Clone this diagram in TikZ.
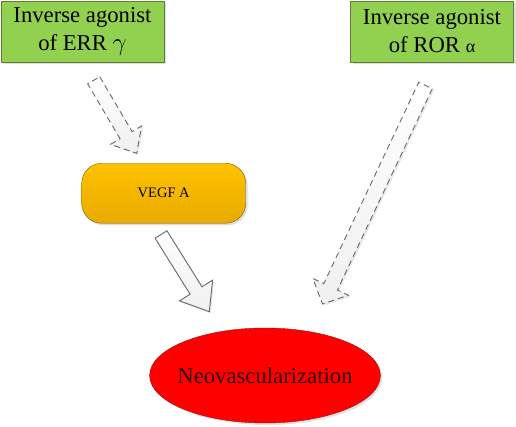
\documentclass[tikz,border=0pt]{standalone}
\usepackage{fontspec}
\setmainfont{Liberation Serif}
\usetikzlibrary{calc,shapes.geometric,shadows}

\definecolor{agogreen}{RGB}{146,208,80}
\definecolor{agoedge}{RGB}{95,125,55}
\definecolor{vegftop}{RGB}{255,194,0}
\definecolor{vegfbot}{RGB}{232,170,0}
\definecolor{vegfedge}{RGB}{120,92,20}
\definecolor{neored}{RGB}{255,0,0}
\definecolor{neoedge}{RGB}{140,20,20}
\definecolor{neotext}{RGB}{45,0,0}
\definecolor{arredge}{RGB}{105,105,105}

\tikzset{
  agonist/.style={draw=agoedge,fill=agogreen,minimum width=163pt,minimum height=61pt,
    inner sep=0pt,align=center,font=\fontsize{22.7}{28}\selectfont,
    drop shadow={shadow xshift=2pt,shadow yshift=-2pt,opacity=.25}},
  target/.style={draw=vegfedge,top color=vegftop,bottom color=vegfbot,rounded corners=20pt,
    minimum width=164pt,minimum height=60pt,font=\fontsize{14.5}{16}\selectfont,
    drop shadow={shadow xshift=2pt,shadow yshift=-2pt,opacity=.25}},
  outcome/.style={ellipse,draw=neoedge,fill=neored,minimum width=230pt,minimum height=95pt,
    inner xsep=-6pt,inner ysep=0pt,text=neotext,font=\fontsize{22.7}{28}\selectfont,
    drop shadow={shadow xshift=2pt,shadow yshift=-2pt,opacity=.25}},
  fat/.style={draw=arredge,top color=white,bottom color=gray!12,line width=0.9pt,
    drop shadow={shadow xshift=1.5pt,shadow yshift=-1.5pt,opacity=.2}},
  fatdash/.style={fat,dash pattern=on 6pt off 4pt}
}

% block arrow: [style]{tail}{tip}{shaft half}{head half}{head length}
\newcommand{\fatarrow}[6][fat]{
  \coordinate (#2-h) at ($(#3)!#6!(#2)$);
  \path[#1] ($(#2)!#4!90:(#3)$) -- ($(#2-h)!#4!90:(#3)$) -- ($(#2-h)!#5!90:(#3)$) -- (#3)
    -- ($(#2-h)!#5!-90:(#3)$) -- ($(#2-h)!#4!-90:(#3)$) -- ($(#2)!#4!-90:(#3)$) -- cycle;
}

\begin{document}
\begin{tikzpicture}[x=1pt,y=-1pt]
\useasboundingbox (0,0) rectangle (516,427);
\node[agonist] (err) at (82.5,31.5) {Inverse agonist\\of ERR {\fontsize{25}{25}\selectfont$\gamma$}};
\node[agonist] (ror) at (432,31.5) {Inverse agonist\\of ROR {\fontsize{18}{18}\selectfont α}};
\node[target] (vegf) at (163.7,193.3) {VEGF A};
\node[outcome] (neo) at (265,375.5) {Neovascularization};
% free ends of the block arrows
\coordinate (err-out) at (93.7,80.3);
\coordinate (vegf-in) at (136.7,153.3);
\coordinate (vegf-out) at (161,234.5);
\coordinate (neo-in1) at (209.3,311.7);
\coordinate (ror-out) at (425.5,85.5);
\coordinate (neo-in2) at (322.5,304);
\fatarrow[fatdash]{err-out}{vegf-in}{7pt}{18pt}{21pt}
\fatarrow[fat]{vegf-out}{neo-in1}{7pt}{19.5pt}{25pt}
\fatarrow[fatdash]{ror-out}{neo-in2}{7.5pt}{19.7pt}{19pt}
\end{tikzpicture}
\end{document}
